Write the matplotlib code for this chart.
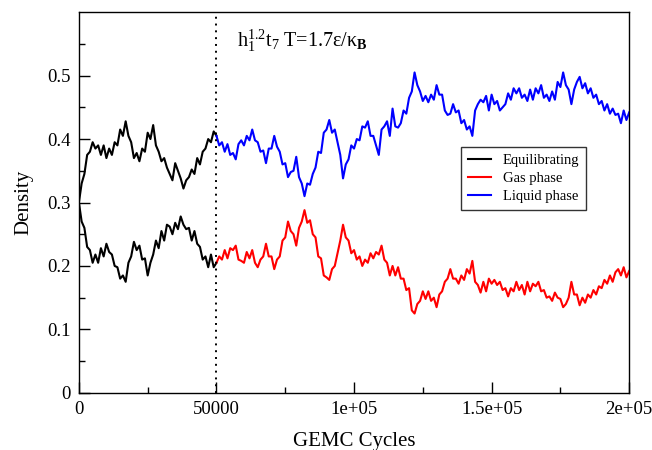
import numpy as np
import matplotlib
matplotlib.use("Agg")
import matplotlib.pyplot as plt

# cycles in thousands, densities
cyc_eq = np.arange(0, 51)
eq_upper = [0.30, 0.33, 0.345, 0.375, 0.38, 0.395, 0.385, 0.39, 0.375, 0.39,
            0.37, 0.385, 0.375, 0.395, 0.39, 0.415, 0.405, 0.428, 0.405, 0.395,
            0.37, 0.378, 0.365, 0.385, 0.38, 0.41, 0.40, 0.422, 0.39, 0.38,
            0.365, 0.37, 0.355, 0.345, 0.335, 0.362, 0.35, 0.338, 0.322, 0.335,
            0.34, 0.352, 0.345, 0.37, 0.36, 0.38, 0.385, 0.40, 0.395, 0.412,
            0.405]
eq_lower = [0.30, 0.27, 0.26, 0.23, 0.225, 0.205, 0.218, 0.205, 0.228, 0.215,
            0.235, 0.222, 0.218, 0.20, 0.198, 0.18, 0.185, 0.175, 0.205, 0.215,
            0.238, 0.225, 0.232, 0.21, 0.212, 0.185, 0.205, 0.218, 0.24, 0.228,
            0.255, 0.24, 0.265, 0.262, 0.25, 0.268, 0.258, 0.278, 0.265, 0.258,
            0.26, 0.24, 0.255, 0.235, 0.23, 0.21, 0.215, 0.198, 0.218, 0.198,
            0.205]

cyc_prod = np.arange(50, 201)
liquid = [0.405, 0.39, 0.395, 0.38, 0.392, 0.375, 0.378, 0.368, 0.392, 0.398,
          0.39, 0.405, 0.398, 0.415, 0.398, 0.395, 0.38, 0.382, 0.362, 0.385,
          0.385, 0.405, 0.388, 0.38, 0.36, 0.362, 0.34, 0.348, 0.35, 0.372,
          0.34, 0.33, 0.31, 0.33, 0.328, 0.345, 0.355, 0.38, 0.378, 0.41,
          0.415, 0.43, 0.41, 0.415, 0.395, 0.375, 0.338, 0.36, 0.368, 0.39,
          0.385, 0.40, 0.398, 0.42, 0.418, 0.428, 0.405, 0.405, 0.39, 0.375,
          0.415, 0.42, 0.428, 0.405, 0.448, 0.42, 0.418, 0.425, 0.445, 0.44,
          0.465, 0.475, 0.505, 0.485, 0.475, 0.46, 0.468, 0.458, 0.47, 0.462,
          0.485, 0.47, 0.47, 0.445, 0.438, 0.44, 0.455, 0.442, 0.445, 0.425,
          0.43, 0.415, 0.42, 0.405, 0.445, 0.455, 0.462, 0.458, 0.468, 0.445,
          0.47, 0.455, 0.46, 0.445, 0.45, 0.455, 0.472, 0.462, 0.48, 0.472,
          0.48, 0.465, 0.47, 0.46, 0.478, 0.462, 0.48, 0.472, 0.485, 0.465,
          0.47, 0.46, 0.475, 0.462, 0.49, 0.482, 0.505, 0.485, 0.478, 0.455,
          0.478, 0.49, 0.498, 0.48, 0.488, 0.472, 0.48, 0.465, 0.47, 0.455,
          0.46, 0.445, 0.455, 0.44, 0.448, 0.438, 0.44, 0.425, 0.445, 0.43,
          0.442]
gas = [0.205, 0.215, 0.21, 0.225, 0.212, 0.228, 0.225, 0.232, 0.21, 0.208,
       0.205, 0.222, 0.212, 0.225, 0.205, 0.198, 0.21, 0.215, 0.235, 0.215,
       0.215, 0.195, 0.21, 0.215, 0.24, 0.245, 0.27, 0.255, 0.25, 0.232,
       0.26, 0.27, 0.288, 0.268, 0.272, 0.25, 0.245, 0.215, 0.212, 0.185,
       0.182, 0.178, 0.195, 0.20, 0.22, 0.24, 0.265, 0.245, 0.24, 0.22,
       0.225, 0.21, 0.215, 0.20, 0.21, 0.205, 0.22, 0.212, 0.222, 0.218,
       0.232, 0.21, 0.205, 0.185, 0.20, 0.185, 0.198, 0.18, 0.18, 0.162,
       0.165, 0.13, 0.125, 0.14, 0.145, 0.16, 0.148, 0.16, 0.145, 0.15,
       0.135, 0.155, 0.16, 0.175, 0.18, 0.195, 0.18, 0.18, 0.172, 0.185,
       0.178, 0.195, 0.188, 0.208, 0.175, 0.17, 0.158, 0.175, 0.16, 0.18,
       0.172, 0.178, 0.17, 0.175, 0.162, 0.165, 0.152, 0.165, 0.16, 0.175,
       0.162, 0.17, 0.155, 0.175, 0.16, 0.172, 0.168, 0.175, 0.16, 0.162,
       0.15, 0.152, 0.145, 0.158, 0.15, 0.148, 0.135, 0.14, 0.15, 0.175,
       0.155, 0.155, 0.138, 0.15, 0.142, 0.155, 0.15, 0.162, 0.155, 0.168,
       0.165, 0.178, 0.172, 0.185, 0.175, 0.19, 0.195, 0.185, 0.198, 0.182,
       0.192]

x_ticks = [0, 50000, 100000, 150000, 200000]
x_ticklabels = ["0", "50000", "1e+05", "1.5e+05", "2e+05"]
y_ticks = [0, 0.1, 0.2, 0.3, 0.4, 0.5]
y_ticklabels = ["0", "0.1", "0.2", "0.3", "0.4", "0.5"]

plt.rcParams["font.family"] = ["Liberation Serif", "DejaVu Serif"]
plt.rcParams["mathtext.fontset"] = "custom"
plt.rcParams["mathtext.rm"] = "Liberation Serif"
plt.rcParams["mathtext.it"] = "Liberation Serif"
plt.rcParams["mathtext.bf"] = "Liberation Serif:bold"

fig = plt.figure(figsize=(6.52, 4.5), dpi=100)
ax = fig.add_axes([0.121, 0.127, 0.844, 0.846])

xe = cyc_eq * 1000
xp = cyc_prod * 1000
ax.plot(xe, eq_upper, color="black", lw=1.5, label="Equilibrating")
ax.plot(xe, eq_lower, color="black", lw=1.5)
ax.plot(xp, gas, color="red", lw=1.5, label="Gas phase")
ax.plot(xp, liquid, color="blue", lw=1.5, label="Liquid phase")
ax.axvline(50000, color="black", ls=(0, (1, 2.5)), lw=1.4)

ax.set_xlim(0, 200000)
ax.set_ylim(0, 0.6)
ax.set_xticks(x_ticks)
ax.set_xticklabels(x_ticklabels)
ax.set_xticks([25000, 75000, 125000, 175000], minor=True)
ax.set_yticks(y_ticks)
ax.set_yticklabels(y_ticklabels)
ax.set_yticks([0.05, 0.15, 0.25, 0.35, 0.45, 0.55], minor=True)
ax.tick_params(which="both", direction="in", top=False, right=False,
               labelsize=13.5, width=1)
ax.tick_params(which="major", length=8, pad=6)
ax.tick_params(which="minor", length=4)
for s in ax.spines.values():
    s.set_linewidth(1.0)

ax.set_xlabel("GEMC Cycles", fontsize=15, labelpad=10)
ax.set_ylabel("Density", fontsize=15, labelpad=10)

ax.text(57500, 0.545, r"h$_1^{1.2}$t$_7$ T=1.7ε/κ$_\mathbf{B}$",
        fontsize=14.5)

leg = ax.legend(loc="upper left", bbox_to_anchor=(0.695, 0.646),
                borderaxespad=0, fontsize=10.5, frameon=True, fancybox=False,
                handlelength=1.6, borderpad=0.45, labelspacing=0.35,
                handletextpad=0.8)
leg.get_frame().set_edgecolor("black")
leg.get_frame().set_linewidth(1.0)

fig.savefig("out.png", dpi=100)
